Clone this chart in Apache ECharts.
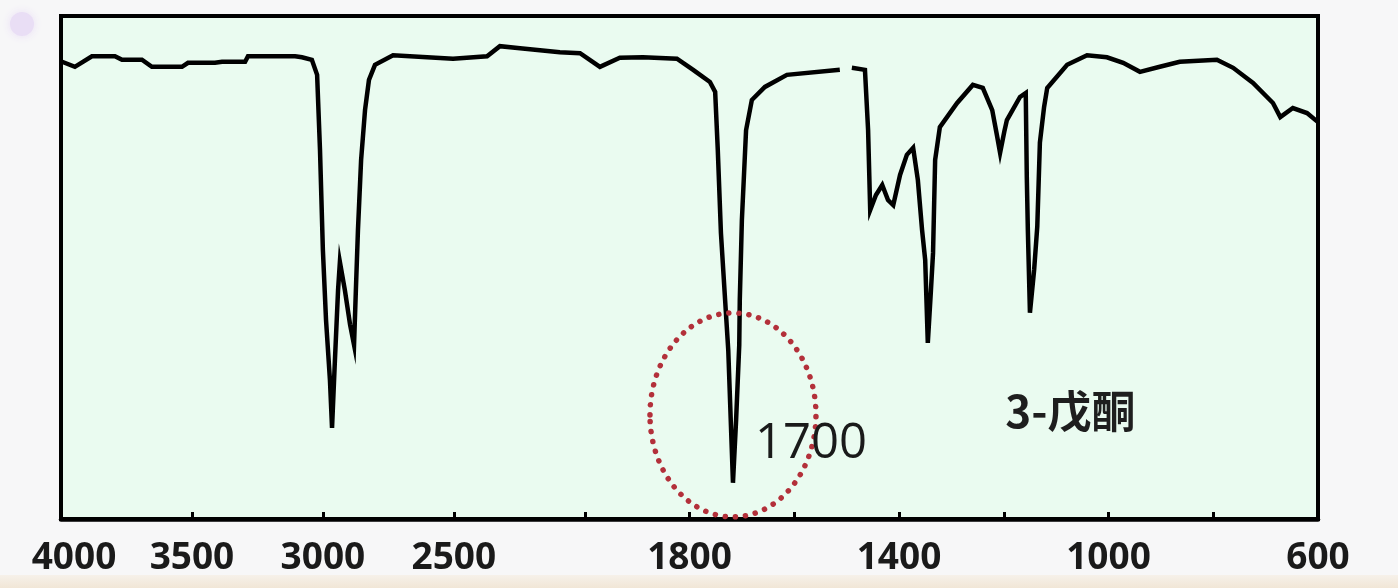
<!DOCTYPE html>
<html>
<head>
<meta charset="utf-8">
<script src="https://cdn.jsdelivr.net/npm/echarts@6/dist/echarts.min.js"></script>
<style>
  html, body { margin: 0; padding: 0; background: #f7f7f8; }
  #chart { width: 1398px; height: 588px; }
</style>
</head>
<body>
<div id="chart"></div>
<script>
// ---- data (wavenumber in cm-1, transmittance in %) ----
const wavenumbers = [3996, 3947, 3882, 3794, 3767, 3691, 3653, 3538, 3515, 3412, 3385, 3297, 3286, 3106, 3080, 3042,
  3022, 3011, 3000, 2988, 2973, 2965, 2954, 2942, 2935, 2916, 2896, 2881, 2874, 2866, 2854, 2839, 2824, 2801,
  2732, 2602, 2503, 2373, 2324, 2247, 2095, 2018, 1971, 1933, 1889, 1824, 1793, 1761,
  1751, 1746, 1740, 1732, 1726, 1717, 1711, 1705, 1704, 1700, 1692, 1681, 1656, 1614, 1513, 1505,
  1490, 1465, 1459, 1455, 1444, 1432, 1421, 1411, 1398, 1385, 1373, 1364, 1356, 1350, 1345, 1339, 1335, 1331,
  1322, 1289, 1259, 1240, 1222, 1213, 1207, 1199, 1194, 1169, 1158, 1156, 1154, 1150, 1142, 1136, 1131, 1123,
  1117, 1079, 1041, 1003, 972, 940, 902, 864, 793, 762, 724, 686, 672, 648, 621, 600];
const transmittance = [90.9, 89.9, 92.0, 92.0, 91.3, 91.3, 89.9, 89.9, 90.7, 90.7, 90.9, 90.9, 92.0, 92.0, 91.8, 91.3,
  88.3, 73.4, 53.5, 39.6, 27.6, 18.1, 31.6, 45.5, 51.1, 45.5, 38.6, 34.6, 45.5, 57.5, 71.4, 81.3, 87.3, 90.3,
  92.2, 91.8, 91.5, 92.0, 94.0, 93.6, 92.8, 92.6, 89.9, 91.7, 91.8, 91.5, 89.3, 86.9,
  84.9, 73.4, 56.9, 43.5, 33.6, 7.2, 19.7, 34.6, 43.5, 59.4, 77.3, 83.3, 85.9, 88.3, 89.3, '-',
  89.7, 89.3, 77.3, 61.4, 64.4, 66.4, 63.4, 62.4, 68.4, 72.4, 73.8, 67.4, 57.5, 51.5, 35.0, 45.5, 52.9, 71.4,
  77.9, 82.7, 86.3, 85.7, 81.3, 76.3, 72.8, 77.0, 79.3, 83.9, 84.7, 68.0, 57.5, 41.0, 49.5, 58.1, 74.8, 81.9,
  85.7, 90.3, 92.2, 91.8, 90.7, 88.9, 89.9, 90.9, 91.3, 89.7, 86.7, 82.7, 79.9, 81.7, 80.7, 78.9];
const labelWavenumbers = [4000, 3500, 3000, 2500, 1800, 1400, 1000, 600];
const tickWavenumbers = [4000, 3500, 3000, 2500, 2000, 1800, 1600, 1400, 1200, 1000, 800, 600];
const peakLabel = '1700';
const peakWavenumber = 1717;
const compoundName = '3-戊酮';

// IR axis: scale doubles below 2000 cm-1
function toAxis(w) { return w >= 2000 ? 4000 - w : 2000 + (2000 - w) * 2; }
function fromAxis(u) { return u <= 2000 ? 4000 - u : 2000 - (u - 2000) / 2; }

const seriesData = wavenumbers.map((w, i) => [toAxis(w), transmittance[i]]);

const chart = echarts.init(document.getElementById('chart'), null, { renderer: 'canvas' });
chart.setOption({
  animation: false,
  backgroundColor: 'transparent',
  grid: {
    left: 61, right: 80, top: 16, bottom: 69,
    show: true,
    backgroundColor: '#eafbf0',
    borderColor: '#000',
    borderWidth: 4
  },
  xAxis: {
    type: 'value',
    min: toAxis(4000),
    max: toAxis(600),
    splitLine: { show: false },
    axisLine: { show: true, onZero: false, lineStyle: { color: '#000', width: 4.5 } },
    axisTick: {
      show: true, inside: true, length: 7,
      customValues: tickWavenumbers.map(toAxis),
      lineStyle: { color: '#000', width: 3 }
    },
    axisLabel: {
      show: true,
      customValues: labelWavenumbers.map(toAxis),
      margin: 21,
      color: '#1a1a1a',
      fontFamily: 'Open Sans',
      fontSize: 37,
      fontWeight: 700,
      formatter: function (u) {
        const w = Math.round(fromAxis(u));
        return w === 4000 ? '{first|' + w + '}' : String(w);
      },
      rich: {
        first: { padding: [0, 0, 0, 26], color: '#1a1a1a', fontFamily: 'Open Sans', fontSize: 37, fontWeight: 700 }
      }
    }
  },
  yAxis: {
    type: 'value',
    min: 0, max: 100,
    show: false
  },
  series: [{
    type: 'line',
    data: seriesData,
    showSymbol: false,
    connectNulls: false,
    lineStyle: { color: '#000', width: 4.5, join: 'miter' },
    z: 3
  }]
});

// annotations placed via the chart's own coordinate conversion
const peakPx = chart.convertToPixel({ gridIndex: 0 }, [toAxis(peakWavenumber), 20.7]);
const namePx = chart.convertToPixel({ gridIndex: 0 }, [toAxis(1197), 21.5]);
chart.setOption({
  graphic: [
    {
      type: 'rect', silent: true, z: -10,
      shape: { x: 0, y: 575, width: 1398, height: 13 },
      style: { fill: new echarts.graphic.LinearGradient(0, 0, 0, 1, [
        { offset: 0, color: '#f6f1ea' }, { offset: 1, color: '#f1e6d6' }]) }
    },
    {
      type: 'circle', silent: true, z: -5,
      shape: { cx: 22, cy: 24, r: 12 },
      style: { fill: '#e9def5', shadowBlur: 10, shadowColor: '#e9def5' }
    },
    {
      type: 'ellipse', silent: true, z: 20,
      shape: { cx: peakPx[0], cy: peakPx[1], rx: 83, ry: 102 },
      style: { fill: 'none', stroke: '#b3303a', lineWidth: 5.5, lineDash: [0.1, 10], lineCap: 'round' }
    },
    {
      type: 'text', silent: true, z: 21,
      x: peakPx[0] + 22, y: 469,
      style: { text: peakLabel, fill: '#1a1a1a', font: '500 49px "Open Sans"', textVerticalAlign: 'bottom', textBaseline: 'alphabetic' }
    },
    {
      type: 'text', silent: true, z: 21,
      x: namePx[0], y: namePx[1],
      style: { text: compoundName, fill: '#1e1e1e', font: '700 44px "Noto Sans CJK SC"', textVerticalAlign: 'middle' }
    }
  ]
});
</script>
</body>
</html>
